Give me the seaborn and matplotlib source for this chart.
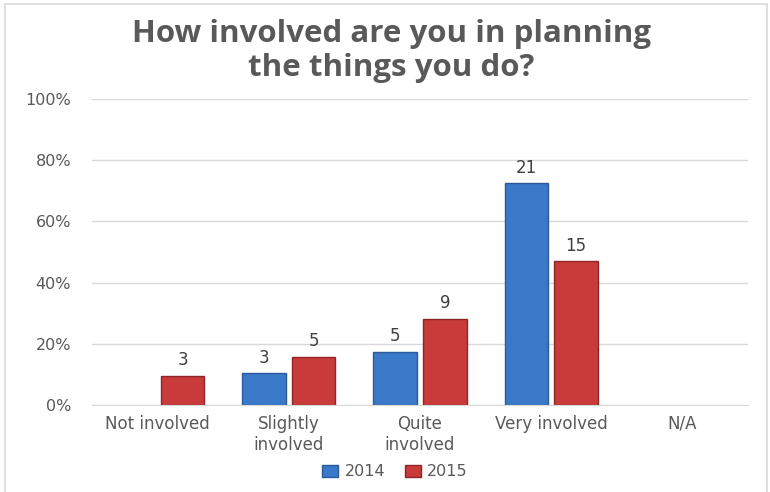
import matplotlib
matplotlib.use("Agg")
import matplotlib.pyplot as plt
import seaborn as sns
import pandas as pd
from matplotlib.patches import Patch, Rectangle

categories = ["Not involved", "Slightly\ninvolved", "Quite\ninvolved", "Very involved", "N/A"]
years = ["2014", "2015"]
pct_2014 = [0.0, 10.3, 17.2, 72.4, 0.0]
pct_2015 = [9.4, 15.6, 28.1, 46.9, 0.0]
count_2014 = [0, 3, 5, 21, 0]
count_2015 = [3, 5, 9, 15, 0]
y_ticks = [0, 20, 40, 60, 80, 100]
y_tick_labels = ["0%", "20%", "40%", "60%", "80%", "100%"]
title = "How involved are you in planning\nthe things you do?"

colors = {"2014": "#3a78c8", "2015": "#c93b3b"}
edges = {"2014": "#2a5a9a", "2015": "#8e2626"}

rows = []
for i, c in enumerate(categories):
    rows.append({"cat": c, "year": "2014", "pct": pct_2014[i], "n": count_2014[i]})
    rows.append({"cat": c, "year": "2015", "pct": pct_2015[i], "n": count_2015[i]})
df = pd.DataFrame(rows)

sns.set_style("white")
plt.rcParams["font.family"] = ["DejaVu Sans"]

fig = plt.figure(figsize=(7.7, 4.92), dpi=100)
ax = fig.add_axes([92 / 770, 1 - 405 / 492, (748 - 92) / 770, (405 - 99) / 492])

sns.barplot(data=df, x="cat", y="pct", hue="year", order=categories, hue_order=years,
            palette=colors, width=0.76, gap=0.13, ax=ax, legend=False, errorbar=None,
            saturation=1)

for cont, yr, counts in zip(ax.containers, years, [count_2014, count_2015]):
    for bar, n in zip(cont, counts):
        if n == 0:
            bar.set_visible(False)
            continue
        bar.set_edgecolor(edges[yr])
        bar.set_linewidth(1.0)
        ax.annotate(str(n), (bar.get_x() + bar.get_width() / 2, bar.get_height()),
                    xytext=(0, 5), textcoords="offset points", ha="center", va="bottom",
                    fontsize=12, color="#404040")

ax.set_ylim(0, 100)
ax.set_xlim(-0.5, len(categories) - 0.5)
ax.set_yticks(y_ticks)
ax.set_yticklabels(y_tick_labels)
ax.yaxis.grid(True, color="#d9d9d9", linewidth=1)
ax.set_axisbelow(True)
for s in ["top", "right", "left"]:
    ax.spines[s].set_visible(False)
ax.spines["bottom"].set_color("#d9d9d9")
ax.tick_params(axis="y", length=0, pad=15, labelsize=11.5, labelcolor="#595959")
ax.tick_params(axis="x", length=0, pad=7, labelsize=12, labelcolor="#595959")
ax.set_xlabel("")
ax.set_ylabel("")

fig.text(391 / 770, 1 - 51 / 492, title, ha="center", va="center", fontsize=22.5,
         fontweight="bold", color="#595959", family=["Open Sans", "DejaVu Sans"],
         linespacing=1.2)

handles = [Patch(facecolor=colors[y], edgecolor=edges[y], label=y) for y in years]
fig.legend(handles=handles, loc="center", bbox_to_anchor=(395 / 770, 1 - 472 / 492),
           ncol=2, frameon=False, fontsize=11.5, handlelength=1.0, handleheight=0.7,
           handletextpad=0.4, columnspacing=1.2, labelcolor="#595959")

fig.patches.append(Rectangle((5 / 770, -0.05), (767 - 5) / 770, 1.05 - 4 / 492,
                             transform=fig.transFigure, fill=False,
                             edgecolor="#d9d9d9", linewidth=1.2))

fig.savefig("out.png", dpi=100)
